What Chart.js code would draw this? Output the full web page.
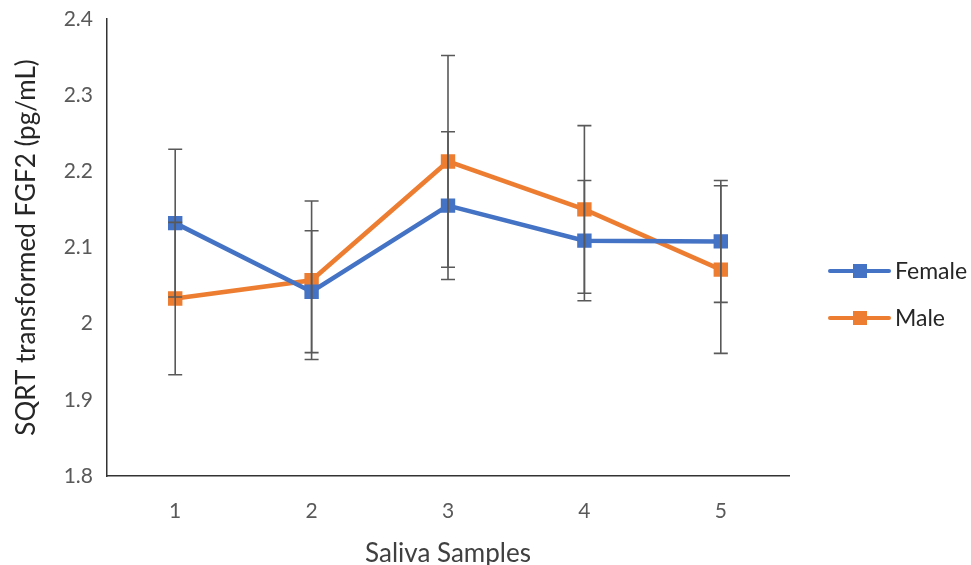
<!DOCTYPE html>
<html>
<head>
<meta charset="utf-8">
<script src="https://cdn.jsdelivr.net/npm/chart.js@4.4.1/dist/chart.umd.min.js"></script>
<style>
  html, body { margin: 0; padding: 0; background: #fff; }
  #wrap { width: 971px; height: 565px; position: relative; }
</style>
</head>
<body>
<div id="wrap"><canvas id="c"></canvas></div>
<script>
// values
const samples = ['1', '2', '3', '4', '5'];
const female = [2.132, 2.042, 2.155, 2.109, 2.108];
const male = [2.033, 2.057, 2.213, 2.150, 2.071];
const femaleErr = [0.097, 0.080, 0.097, 0.079, 0.080];
const maleErr = [0.100, 0.104, 0.139, 0.110, 0.110];
const yTicks = [1.8, 1.9, 2.0, 2.1, 2.2, 2.3, 2.4];

const FONT = 'Lato, "Open Sans", sans-serif';
const TXT = '#595959';

// Excel style error bars, drawn over the lines
const errorBars = {
    id: 'errorBars',
    afterDatasetsDraw(chart) {
        const { ctx, scales: { x, y } } = chart;
        ctx.save();
        ctx.strokeStyle = '#595959';
        ctx.lineWidth = 1.6;
        chart.data.datasets.forEach((ds) => {
            ds.data.forEach((v, i) => {
                const e = ds.err[i];
                const px = x.getPixelForValue(i);
                const top = y.getPixelForValue(v + e);
                const bot = y.getPixelForValue(v - e);
                ctx.beginPath();
                ctx.moveTo(px, top); ctx.lineTo(px, bot);
                ctx.moveTo(px - 7, top); ctx.lineTo(px + 7, top);
                ctx.moveTo(px - 7, bot); ctx.lineTo(px + 7, bot);
                ctx.stroke();
            });
        });
        ctx.restore();
    }
};

// legend on the right: line sample with a square marker
const sideLegend = {
    id: 'sideLegend',
    afterDraw(chart) {
        const { ctx, chartArea } = chart;
        const x0 = chartArea.right + 41;
        let yy = 271;
        ctx.save();
        ctx.font = '23px ' + FONT;
        ctx.textBaseline = 'middle';
        chart.data.datasets.forEach((ds) => {
            ctx.strokeStyle = ds.borderColor;
            ctx.lineWidth = 4;
            ctx.lineCap = 'round';
            ctx.beginPath();
            ctx.moveTo(x0, yy); ctx.lineTo(x0 + 59, yy);
            ctx.stroke();
            ctx.fillStyle = ds.borderColor;
            ctx.fillRect(x0 + 23, yy - 7, 14, 14);
            ctx.fillStyle = '#262626';
            ctx.fillText(ds.label, x0 + 65, yy + 1);
            yy += 47;
        });
        ctx.restore();
    }
};

new Chart(document.getElementById('c'), {
    type: 'line',
    data: {
        labels: samples,
        datasets: [
            { label: 'Female', data: female, err: femaleErr, borderColor: '#4472C4', backgroundColor: '#4472C4',
              borderWidth: 4.5, pointStyle: 'rect', pointRadius: 7, pointHoverRadius: 7, tension: 0 },
            { label: 'Male', data: male, err: maleErr, borderColor: '#ED7D31', backgroundColor: '#ED7D31',
              borderWidth: 4.5, pointStyle: 'rect', pointRadius: 7, pointHoverRadius: 7, tension: 0 }
        ]
    },
    options: {
        responsive: true,
        maintainAspectRatio: false,
        animation: false,
        layout: { padding: { left: 0, right: 182, top: 19, bottom: 0 } },
        plugins: {
            legend: { display: false },
            tooltip: { enabled: false }
        },
        scales: {
            x: {
                offset: true,
                grid: { display: false, drawTicks: false },
                border: { display: true, color: '#333', width: 1.5 },
                ticks: { color: TXT, font: { family: FONT, size: 21 }, padding: 23 },
                title: { display: true, text: 'Saliva Samples', color: '#404040',
                         font: { family: FONT, size: 26 }, padding: { top: 4, bottom: -4 } },
                afterFit: (s) => { s.height = 89; s.paddingLeft = 0; s.paddingRight = 0; }
            },
            y: {
                min: 1.8, max: 2.4,
                afterBuildTicks: (s) => { s.ticks = yTicks.map((v) => ({ value: v })); },
                grid: { display: false, drawTicks: false },
                border: { display: true, color: '#333', width: 1.5 },
                ticks: { color: TXT, font: { family: FONT, size: 21 }, padding: 14,
                         callback: (v) => String(Math.round(v * 10) / 10) },
                title: { display: true, text: 'SQRT transformed FGF2 (pg/mL)', color: '#262626',
                         font: { family: FONT, size: 26 }, padding: { top: 11, bottom: 0 } },
                afterFit: (s) => { s.width = 107; s.paddingTop = 0; s.paddingBottom = 0; }
            }
        }
    },
    plugins: [errorBars, sideLegend]
});
</script>
</body>
</html>
